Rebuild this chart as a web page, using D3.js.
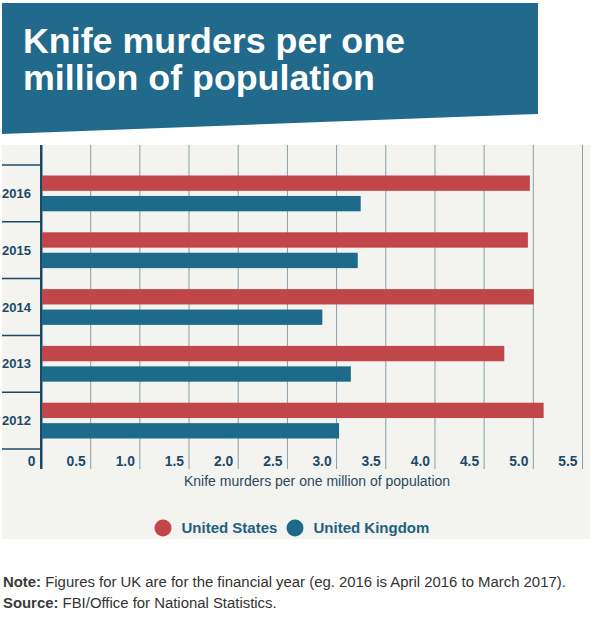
<!DOCTYPE html>
<html>
<head>
<meta charset="utf-8">
<script src="https://cdn.jsdelivr.net/npm/d3@7"></script>
<style>
  html, body { margin: 0; padding: 0; background: #ffffff; }
  svg { display: block; font-family: "Liberation Sans", Arial, sans-serif; }
</style>
</head>
<body>
<svg id="chart" width="592" height="631"></svg>
<script>
// ---- Data ----
const years = ["2016", "2015", "2014", "2013", "2012"];
const series = ["United States", "United Kingdom"];
const usValues = [4.97, 4.95, 5.01, 4.71, 5.11];
const ukValues = [3.25, 3.22, 2.86, 3.15, 3.03];
const tickValues = [0, 0.5, 1.0, 1.5, 2.0, 2.5, 3.0, 3.5, 4.0, 4.5, 5.0, 5.5];
const titleLines = ["Knife murders per one", "million of population"];
const axisTitle = "Knife murders per one million of population";

const colors = { "United States": "#c1464a", "United Kingdom": "#1e6a8b" };
const headerBlue = "#216a8b";
const darkBlue = "#1b4a68";

const svg = d3.select("#chart");

// ---- Header ----
svg.append("polygon")
  .attr("points", "2,3 538,3 538,114 2,134")
  .attr("fill", headerBlue);
svg.append("g").selectAll("text").data(titleLines).join("text")
  .attr("x", 23)
  .attr("y", (d, i) => 53 + i * 37)
  .attr("fill", "#ffffff")
  .attr("font-size", "35.8px")
  .attr("font-weight", "bold")
  .text(d => d);

// ---- Chart background ----
const plotTop = 145, plotBottom = 469;
svg.append("rect")
  .attr("x", 2).attr("y", plotTop)
  .attr("width", 588).attr("height", 539 - plotTop)
  .attr("fill", "#f3f3ef");

// ---- Scales ----
const x = d3.scaleLinear().domain([0, 5.5]).range([41, 582]);
const y = d3.scaleBand().domain(years).range([165, 449]).padding(0);
const yInner = d3.scaleBand().domain(series).range([10.5, 46.3]).paddingInner(0.25);

// ---- X axis with grid ----
const xAxis = d3.axisBottom(x)
  .tickValues(tickValues)
  .tickSize(-(plotBottom - plotTop))
  .tickFormat(d => d === 0 ? "0" : d3.format(".1f")(d));

const gx = svg.append("g")
  .attr("transform", `translate(0,${plotBottom})`)
  .call(xAxis);
gx.select(".domain").remove();
gx.selectAll(".tick line")
  .attr("stroke", "#8a9ea7")
  .attr("stroke-width", 1);
gx.selectAll(".tick text")
  .attr("text-anchor", "end")
  .attr("x", d => d === 0 ? -6 : -5)
  .attr("y", -3.5)
  .attr("dy", 0)
  .attr("fill", darkBlue)
  .attr("font-size", "13.8px")
  .attr("font-weight", "bold")
  .attr("font-family", "'Liberation Sans', Arial, sans-serif");
gx.selectAll(".tick").filter(d => d === 0).select("line")
  .attr("stroke", darkBlue).attr("stroke-width", 2);

// ---- Bars ----
const rows = years.map((yr, i) => ({ year: yr, values: [
  { key: "United States", value: usValues[i] },
  { key: "United Kingdom", value: ukValues[i] }
]}));

const groups = svg.append("g").selectAll("g").data(rows).join("g")
  .attr("transform", d => `translate(0,${y(d.year)})`);
groups.selectAll("rect").data(d => d.values).join("rect")
  .attr("x", x(0) + 1)
  .attr("y", d => yInner(d.key))
  .attr("width", d => x(d.value) - x(0) - 1)
  .attr("height", yInner.bandwidth())
  .attr("fill", d => colors[d.key]);

// ---- Y labels and separators ----
const sepYs = years.map(d => y(d)).concat([y(years[years.length - 1]) + y.bandwidth()]);
svg.append("g").selectAll("line").data(sepYs).join("line")
  .attr("x1", 2).attr("x2", 41)
  .attr("y1", d => d).attr("y2", d => d)
  .attr("stroke", darkBlue).attr("stroke-width", 1.5);

svg.append("g").selectAll("text").data(years).join("text")
  .attr("x", 2)
  .attr("y", d => y(d) + y.bandwidth() / 2)
  .attr("dy", "0.36em")
  .attr("fill", darkBlue)
  .attr("font-size", "13px")
  .attr("font-weight", "bold")
  .text(d => d);

// axis line (redraw on top)
svg.append("line")
  .attr("x1", x(0)).attr("x2", x(0))
  .attr("y1", plotTop).attr("y2", plotBottom)
  .attr("stroke", darkBlue).attr("stroke-width", 2);

// ---- Axis title ----
svg.append("text")
  .attr("x", 184).attr("y", 486)
  .attr("fill", "#2b4a5e")
  .attr("font-size", "14px")
  .text(axisTitle);

// ---- Legend ----
const legendX = [163, 295];
const legend = svg.append("g").selectAll("g").data(series).join("g")
  .attr("transform", (d, i) => `translate(${legendX[i]},528)`);
legend.append("circle").attr("r", 8.5).attr("fill", d => colors[d]);
legend.append("text")
  .attr("x", 18.5).attr("dy", "0.36em")
  .attr("fill", "#1f6182")
  .attr("font-size", "15px")
  .attr("font-weight", "bold")
  .text(d => d);

// ---- Footer ----
const notes = [
  { label: "Note:", text: " Figures for UK are for the financial year (eg. 2016 is April 2016 to March 2017)." },
  { label: "Source:", text: " FBI/Office for National Statistics." }
];
const ft = svg.append("g").selectAll("text").data(notes).join("text")
  .attr("x", 3)
  .attr("y", (d, i) => 586.5 + i * 21.5)
  .attr("font-size", "14.9px")
  .attr("fill", "#333333");
ft.append("tspan").attr("font-weight", "bold").attr("fill", "#3a3a3a").text(d => d.label);
ft.append("tspan").text(d => d.text);
</script>
</body>
</html>
